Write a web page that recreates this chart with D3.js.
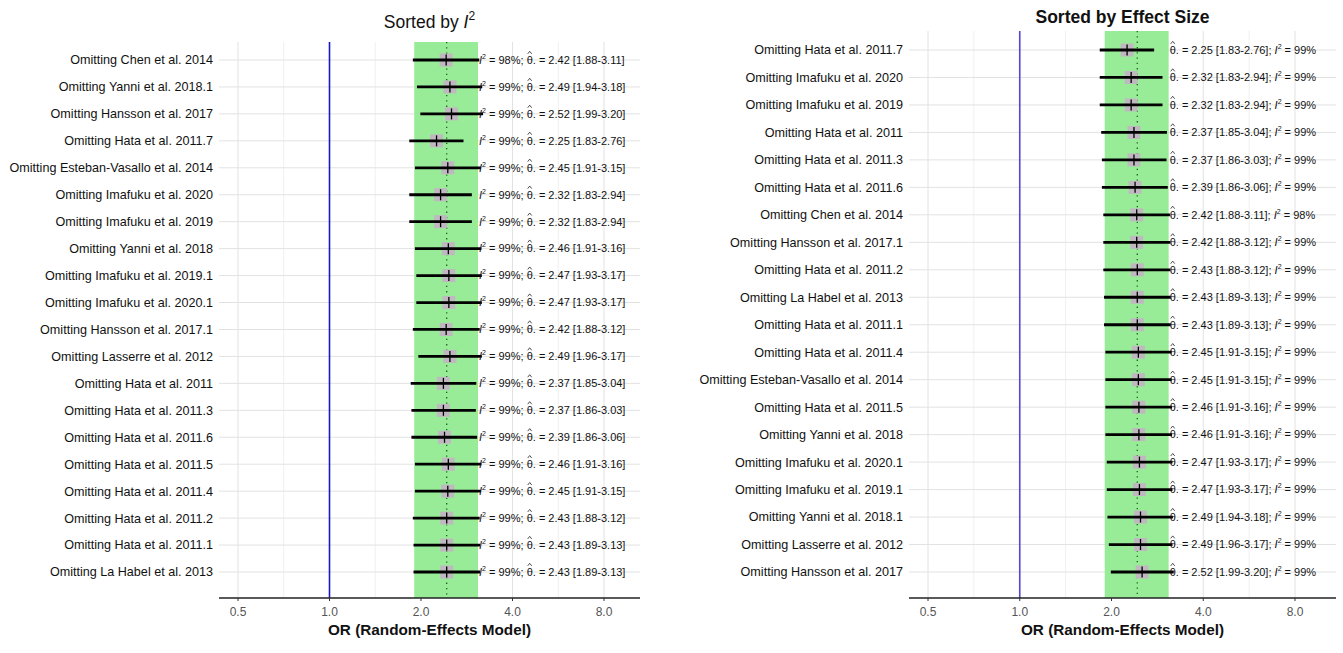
<!DOCTYPE html>
<html>
<head>
<meta charset="utf-8">
<script src="https://cdn.jsdelivr.net/npm/d3@7/dist/d3.min.js"></script>
<style>
  html, body { margin: 0; padding: 0; background: #fff; }
  svg { display: block; font-family: "Liberation Sans", Arial, sans-serif; }
</style>
</head>
<body>
<svg id="chart" width="1343" height="653"></svg>
<script>
// ---------------- data ----------------
const studyNames = [
  "Omitting Chen et al. 2014",
  "Omitting Yanni et al. 2018.1",
  "Omitting Hansson et al. 2017",
  "Omitting Hata et al. 2011.7",
  "Omitting Esteban-Vasallo et al. 2014",
  "Omitting Imafuku et al. 2020",
  "Omitting Imafuku et al. 2019",
  "Omitting Yanni et al. 2018",
  "Omitting Imafuku et al. 2019.1",
  "Omitting Imafuku et al. 2020.1",
  "Omitting Hansson et al. 2017.1",
  "Omitting Lasserre et al. 2012",
  "Omitting Hata et al. 2011",
  "Omitting Hata et al. 2011.3",
  "Omitting Hata et al. 2011.6",
  "Omitting Hata et al. 2011.5",
  "Omitting Hata et al. 2011.4",
  "Omitting Hata et al. 2011.2",
  "Omitting Hata et al. 2011.1",
  "Omitting La Habel et al. 2013"
];
const estimates = [2.42, 2.49, 2.52, 2.25, 2.45, 2.32, 2.32, 2.46, 2.47, 2.47, 2.42, 2.49, 2.37, 2.37, 2.39, 2.46, 2.45, 2.43, 2.43, 2.43];
const lowerCI   = [1.88, 1.94, 1.99, 1.83, 1.91, 1.83, 1.83, 1.91, 1.93, 1.93, 1.88, 1.96, 1.85, 1.86, 1.86, 1.91, 1.91, 1.88, 1.89, 1.89];
const upperCI   = [3.11, 3.18, 3.20, 2.76, 3.15, 2.94, 2.94, 3.16, 3.17, 3.17, 3.12, 3.17, 3.04, 3.03, 3.06, 3.16, 3.15, 3.12, 3.13, 3.13];
const i2Values  = [98, 99, 99, 99, 99, 99, 99, 99, 99, 99, 99, 99, 99, 99, 99, 99, 99, 99, 99, 99];

// order of the right panel (sorted by effect size)
const effectOrder = [
  "Omitting Hata et al. 2011.7",
  "Omitting Imafuku et al. 2020",
  "Omitting Imafuku et al. 2019",
  "Omitting Hata et al. 2011",
  "Omitting Hata et al. 2011.3",
  "Omitting Hata et al. 2011.6",
  "Omitting Chen et al. 2014",
  "Omitting Hansson et al. 2017.1",
  "Omitting Hata et al. 2011.2",
  "Omitting La Habel et al. 2013",
  "Omitting Hata et al. 2011.1",
  "Omitting Hata et al. 2011.4",
  "Omitting Esteban-Vasallo et al. 2014",
  "Omitting Hata et al. 2011.5",
  "Omitting Yanni et al. 2018",
  "Omitting Imafuku et al. 2020.1",
  "Omitting Imafuku et al. 2019.1",
  "Omitting Yanni et al. 2018.1",
  "Omitting Lasserre et al. 2012",
  "Omitting Hansson et al. 2017"
];

const pooledEstimate = 2.43;
const pooledCI = [1.90, 3.08];
const nullValue = 1.0;
const xTicks = [0.5, 1, 2, 4, 8];
const xMinorTicks = [0.7071, 1.4142, 2.8284, 5.6569];
const xTickLabels = ["0.5", "1.0", "2.0", "4.0", "8.0"];
const axisTitle = "OR (Random-Effects Model)";

const rows = studyNames.map((name, i) => ({
  name, est: estimates[i], lo: lowerCI[i], hi: upperCI[i], i2: i2Values[i]
}));
const byName = new Map(rows.map(r => [r.name, r]));

// ---------------- drawing ----------------
const svg = d3.select("#chart");

function drawPanel(cfg) {
  const g = svg.append("g");
  const x = d3.scaleLog().base(2).domain([0.5, 8]).range([cfg.t0, cfg.t1]);
  const y = d3.scalePoint().domain(cfg.order).range([cfg.yFirst, cfg.yLast]);
  const data = cfg.order.map(n => byName.get(n));

  // minor vertical gridlines
  g.selectAll(".vminor").data(xMinorTicks).join("line")
    .attr("x1", d => x(d)).attr("x2", d => x(d))
    .attr("y1", cfg.top).attr("y2", cfg.bottom)
    .attr("stroke", "#f0f0f0").attr("stroke-width", 1);
  // major vertical gridlines
  g.selectAll(".vmajor").data(xTicks).join("line")
    .attr("x1", d => x(d)).attr("x2", d => x(d))
    .attr("y1", cfg.top).attr("y2", cfg.bottom)
    .attr("stroke", "#e2e2e2").attr("stroke-width", 1);
  // horizontal gridlines
  g.selectAll(".hgrid").data(data).join("line")
    .attr("x1", cfg.x0).attr("x2", cfg.x1)
    .attr("y1", d => y(d.name)).attr("y2", d => y(d.name))
    .attr("stroke", "#e2e2e2").attr("stroke-width", 1);

  // pooled CI band
  g.append("rect")
    .attr("x", x(pooledCI[0])).attr("width", x(pooledCI[1]) - x(pooledCI[0]))
    .attr("y", cfg.top).attr("height", cfg.bottom - cfg.top)
    .attr("fill", "#98ec98");

  // null line
  g.append("line")
    .attr("x1", x(nullValue)).attr("x2", x(nullValue))
    .attr("y1", cfg.top).attr("y2", cfg.bottom)
    .attr("stroke", cfg.nullColor).attr("stroke-width", 1.6);

  // pooled estimate dotted line
  g.append("line")
    .attr("x1", x(pooledEstimate)).attr("x2", x(pooledEstimate))
    .attr("y1", cfg.top).attr("y2", cfg.bottom)
    .attr("stroke", "#1f5f1f").attr("stroke-width", 1.3)
    .attr("stroke-dasharray", "1.3,4");

  // grey squares
  g.selectAll(".sq").data(data).join("rect")
    .attr("x", d => x(d.est) - 6.5).attr("y", d => y(d.name) - 6.5)
    .attr("width", 13).attr("height", 13)
    .attr("fill", "#c0b8c0");

  // CI lines
  g.selectAll(".ci").data(data).join("line")
    .attr("x1", d => x(d.lo)).attr("x2", d => x(d.hi))
    .attr("y1", d => y(d.name)).attr("y2", d => y(d.name))
    .attr("stroke", "#000").attr("stroke-width", 2.8);

  // point tick
  g.selectAll(".pt").data(data).join("line")
    .attr("x1", d => x(d.est)).attr("x2", d => x(d.est))
    .attr("y1", d => y(d.name) - 5.5).attr("y2", d => y(d.name) + 5.5)
    .attr("stroke", "#000").attr("stroke-width", 1.3);

  // row labels
  g.selectAll(".lab").data(data).join("text")
    .attr("x", cfg.x0 - 6).attr("y", d => y(d.name))
    .attr("dy", "0.35em").attr("text-anchor", "end")
    .attr("font-size", 12.6).attr("fill", "#111")
    .text(d => d.name);

  // value annotations
  const tx = x(pooledCI[1]) + 1;
  const hats = [];
  g.selectAll(".val").data(data).join("text")
    .attr("x", tx).attr("y", d => y(d.name))
    .attr("dy", "0.35em")
    .attr("font-size", 11).attr("fill", "#111")
    .each(function(d) {
      const t = d3.select(this);
      const est = d.est.toFixed(2) + " [" + d.lo.toFixed(2) + "-" + d.hi.toFixed(2) + "]";
      const i2part = (sel) => {
        sel.append("tspan").attr("font-style", "italic").text("I");
        sel.append("tspan").attr("font-size", 7).attr("dy", -5).text("2");
        sel.append("tspan").attr("dy", 5).text(" = " + d.i2 + "%");
      };
      const thetaPart = (sel) => {
        sel.append("tspan").text("\u03B8.");
        sel.append("tspan").text(" = " + est);
      };
      if (cfg.i2First) {
        i2part(t); t.append("tspan").text("; "); thetaPart(t);
      } else {
        thetaPart(t); t.append("tspan").text("; "); i2part(t);
      }
      // locate theta to draw its hat accent as a small path
      const idx = this.textContent.indexOf("\u03B8");
      const p0 = this.getStartPositionOfChar(idx);
      const p1 = this.getEndPositionOfChar(idx);
      hats.push({ x0: p0.x, x1: p1.x, y: p0.y });
    });

  g.selectAll(".hat").data(hats).join("path")
    .attr("d", h => {
      const m = (h.x0 + h.x1) / 2;
      return `M${m - 2},${h.y - 10} L${m},${h.y - 12.5} L${m + 2},${h.y - 10}`;
    })
    .attr("fill", "none").attr("stroke", "#222").attr("stroke-width", 0.8);

  // x axis line
  g.append("line")
    .attr("x1", cfg.x0).attr("x2", cfg.x1)
    .attr("y1", cfg.bottom).attr("y2", cfg.bottom)
    .attr("stroke", "#222").attr("stroke-width", 1.4);
  // ticks
  g.selectAll(".tick").data(xTicks).join("line")
    .attr("x1", d => x(d)).attr("x2", d => x(d))
    .attr("y1", cfg.bottom).attr("y2", cfg.bottom + 3)
    .attr("stroke", "#333").attr("stroke-width", 1);
  g.selectAll(".ticklab").data(xTicks).join("text")
    .attr("x", d => x(d)).attr("y", cfg.bottom + 18)
    .attr("text-anchor", "middle").attr("font-size", 12).attr("fill", "#555")
    .text((d, i) => xTickLabels[i]);

  // axis title
  g.append("text")
    .attr("x", (cfg.x0 + cfg.x1) / 2).attr("y", cfg.bottom + 37)
    .attr("text-anchor", "middle").attr("font-size", 15.3).attr("font-weight", "bold")
    .attr("fill", "#111").text(axisTitle);

  // panel title
  const title = g.append("text")
    .attr("x", (cfg.x0 + cfg.x1) / 2).attr("y", cfg.titleY)
    .attr("text-anchor", "middle").attr("font-size", 17.5)
    .attr("font-weight", cfg.titleBold ? "bold" : "normal")
    .attr("fill", "#111");
  cfg.title(title);
}

drawPanel({
  order: studyNames,
  x0: 219, x1: 640, t0: 238, t1: 604,
  top: 42, bottom: 598, yFirst: 60, yLast: 572,
  titleY: 28, titleBold: false, i2First: true, nullColor: "#1818c8",
  title: t => {
    t.append("tspan").text("Sorted by ");
    t.append("tspan").attr("font-style", "italic").text("I");
    t.append("tspan").attr("font-size", 12).attr("dy", -8).text("2");
  }
});

drawPanel({
  order: effectOrder,
  x0: 909, x1: 1336, t0: 928, t1: 1295,
  top: 31, bottom: 598, yFirst: 50, yLast: 572,
  titleY: 23, titleBold: true, i2First: false, nullColor: "#5448d0",
  title: t => { t.text("Sorted by Effect Size"); }
});
</script>
</body>
</html>
